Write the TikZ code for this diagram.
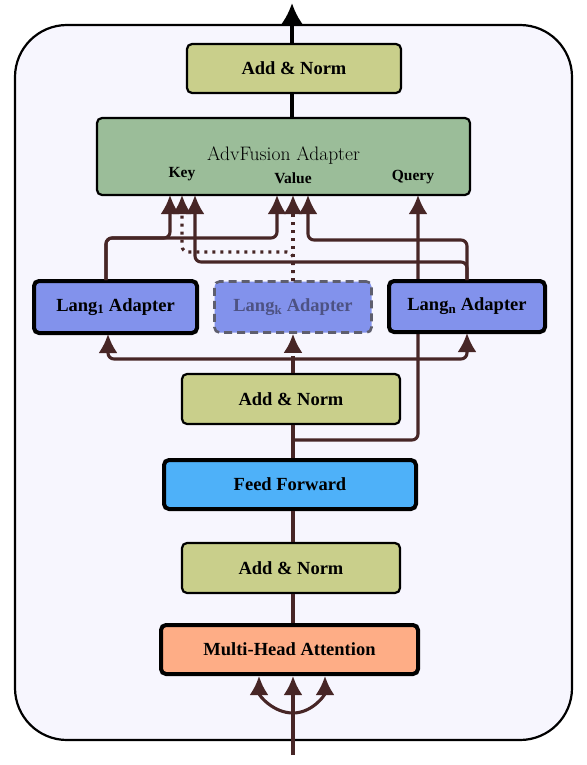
\documentclass[tikz,border=0pt]{standalone}
\usepackage{fontspec}
\newfontfamily\boxfont{Liberation Serif}
\usetikzlibrary{arrows.meta}
\definecolor{bgc}{HTML}{F7F6FE}
\definecolor{anfill}{HTML}{C9CF8B}
\definecolor{advfill}{HTML}{9BBD99}
\definecolor{langfill}{HTML}{8292EC}
\definecolor{fffill}{HTML}{4EB1F9}
\definecolor{mhafill}{HTML}{FEAD86}
\definecolor{conn}{HTML}{472626}
\definecolor{ktext}{HTML}{4D5283}
\definecolor{kborder}{HTML}{5E5E6E}
\tikzset{
  boxbase/.style={rounded corners=5pt, inner sep=0pt, font=\fontsize{18.5}{21}\boxfont\bfseries},
  thinbox/.style={boxbase, draw=black, line width=2.2pt},
  thickbox/.style={boxbase, draw=black, line width=4pt},
  dashbox/.style={boxbase, draw=kborder, line width=2.6pt, dash pattern=on 8pt off 5pt, text=ktext},
  wire/.style={draw=conn, line width=3.1pt, rounded corners=6pt},
  arrowtip/.style={-{Latex[length=19pt,width=19pt]}},
  dotwire/.style={wire, dash pattern=on 3pt off 5pt},
  lbl/.style={font=\fontsize{15.5}{18}\boxfont\bfseries, inner sep=0pt}
}
\begin{document}
\begin{tikzpicture}[x=1pt,y=-1pt]
\useasboundingbox (0,0) rectangle (586,765);
\draw[fill=bgc, line width=2.2pt, rounded corners=52pt] (15,25) rectangle (572,740);

% nodes
\node[thinbox, fill=anfill, minimum width=214pt, minimum height=49pt] (topan) at (294,68.5) {Add \& Norm};
\node[thinbox, fill=advfill, minimum width=373pt, minimum height=77pt] (adv) at (283.5,156.5) {};
\node[inner sep=0pt, font=\fontsize{19.5}{22}\selectfont] (advt) at (283.5,156) {AdvFusion Adapter};
\node[lbl] (key) at (182,174) {Key};
\node[lbl] (val) at (293,178.5) {Value};
\node[lbl] (qry) at (413,177) {Query};
\node[thickbox, fill=langfill, minimum width=163pt, minimum height=52pt] (lang1) at (115.5,307) {Lang\textsubscript{1} Adapter};
\node[dashbox, fill=langfill, minimum width=157pt, minimum height=51pt] (langk) at (293,307) {Lang\textsubscript{k} Adapter};
\node[thinbox, fill=anfill, minimum width=218pt, minimum height=50pt] (midan) at (291,399) {Add \& Norm};
\node[thickbox, fill=fffill, minimum width=252pt, minimum height=49pt] (ff) at (290,484.5) {Feed Forward};
\node[thinbox, fill=anfill, minimum width=218pt, minimum height=50pt] (lowan) at (291,568) {Add \& Norm};
\node[thickbox, fill=mhafill, minimum width=257pt, minimum height=49pt] (mha) at (289.5,649.5) {Multi-Head Attention};

% helper coordinates
\coordinate (in) at (293,755);
\coordinate (split) at (293,713);
\coordinate (jq) at (293,440);
\coordinate (jl) at (293,359);
\coordinate (out) at (292,3);
\coordinate (qtop) at (418,195);

% query line (drawn before Lang_n so it passes under it)
\draw[wire, arrowtip] (jq) -- (418,440) -- (qtop);

\node[thickbox, fill=langfill, minimum width=156pt, minimum height=51pt] (langn) at (467,306.5) {Lang\textsubscript{n} Adapter};

% top
\draw[line width=3.8pt] (topan.south -| out) -- (adv.north -| out);
\draw[line width=3.8pt, -{Latex[length=22pt,width=23pt]}] (topan.north -| out) -- (out);

% spine
\draw[wire] (midan.south -| jq) -- (ff.north -| jq);
\draw[wire] (ff.south -| jq) -- (lowan.north -| jq);
\draw[wire] (lowan.south -| jq) -- (mha.north -| jq);
\draw[wire] (midan.north -| jl) -- (jl);

% input
\draw[wire, arrowtip] (in) -- (mha.south -| in);
\draw[wire, arrowtip] (split) to[out=180, in=-90] (259,676);
\draw[wire, arrowtip] (split) to[out=0, in=-90] (325,676);

% to adapters
\draw[wire, arrowtip] (jl) -- (108,359) -- (108,334);
\draw[wire, arrowtip] (jl) -- (467,359) -- (467,333);
\draw[dotwire, arrowtip] (jl) -- (langk.south -| jl);

% adapter outputs
\draw[wire, arrowtip] (106,280) -- (106,238) -- (170,238) -- (170,195);
\draw[wire, arrowtip] (106,280) -- (106,238) -- (277,238) -- (277,195);
\draw[dotwire, arrowtip] (293,281) -- (293,252) -- (182,252) -- (182,195);
\draw[dotwire, arrowtip] (293,281) -- (293,195);
\draw[wire, arrowtip] (467,280) -- (467,240) -- (308,240) -- (308,195);
\draw[wire, arrowtip] (467,280) -- (467,262) -- (195,262) -- (195,195);
\end{tikzpicture}
\end{document}
